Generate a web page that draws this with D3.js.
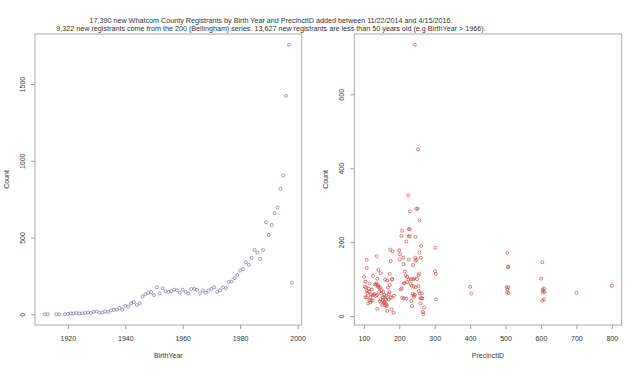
<!DOCTYPE html>
<html>
<head>
<meta charset="utf-8">
<script src="https://cdn.jsdelivr.net/npm/d3@7"></script>
<style>
  body { margin: 0; background: #fff; }
  text { font-family: "Liberation Sans", Arial, sans-serif; fill: #333; }
  .axis text { font-size: 7px; }
  .axis line { stroke: #999; }
</style>
</head>
<body>
<div class="chart"></div>
<script>
// counts by birth year
const birthYears = [1912, 1913, 1916, 1917,
  1919, 1920, 1921, 1922, 1923, 1924, 1925, 1926, 1927, 1928, 1929,
  1930, 1931, 1932, 1933, 1934, 1935, 1936, 1937, 1938, 1939,
  1940, 1941, 1942, 1943, 1944, 1945, 1946, 1947, 1948, 1949,
  1950, 1951, 1952, 1953, 1954, 1955, 1956, 1957, 1958, 1959,
  1960, 1961, 1962, 1963, 1964, 1965, 1966, 1967, 1968, 1969,
  1970, 1971, 1972, 1973, 1974, 1975, 1976, 1977, 1978, 1979,
  1980, 1981, 1982, 1983, 1984, 1985, 1986, 1987, 1988, 1989,
  1990, 1991, 1992, 1993, 1994, 1995, 1996, 1997, 1998];
const birthCounts = [0, 0, 0, 0,
  0, 2, 5, 5, 8, 5, 6, 8, 12, 8, 15,
  18, 10, 12, 18, 15, 25, 28, 30, 40, 30,
  55, 50, 70, 80, 60, 70, 115, 130, 140, 145,
  125, 175, 135, 170, 150, 145, 150, 160, 155, 140,
  160, 145, 135, 165, 165, 160, 135, 155, 140, 155,
  165, 175, 145, 155, 175, 170, 210, 213, 235, 256,
  285, 293, 339, 322, 367, 419, 402, 361, 419, 600,
  517, 582, 658, 695, 817, 904, 1423, 1756, 206];

// counts by precinct
const precinctIds = [244, 253, 225, 230, 248, 252, 257, 208, 206, 227, 229, 226, 229, 246, 220,
  262, 302, 174, 181, 200, 202, 257, 505, 108, 136, 211, 201, 227, 245, 249,
  261, 176, 604, 246, 212, 239, 507, 508, 108, 141, 147, 173, 216, 256, 254,
  301, 303, 101, 126, 222, 600, 104, 138, 160, 166, 179, 227, 233, 239, 243,
  250, 116, 131, 135, 140, 173, 213, 215, 235, 241, 246, 254, 103, 106, 114,
  140, 144, 147, 168, 400, 503, 508, 505, 605, 609, 607, 800, 700, 403, 504,
  508, 605, 610, 109, 114, 144, 149, 172, 258, 264, 120, 124, 127, 133, 137,
  158, 163, 104, 108, 154, 160, 175, 178, 241, 241, 208, 220, 260, 265, 304,
  609, 116, 121, 125, 147, 152, 162, 234, 604, 112, 118, 156, 160, 164, 260,
  161, 165, 236, 138, 270, 166, 178, 184, 267, 268,
  150, 155, 130, 118, 145, 170, 157, 152, 135, 110, 122, 170, 180, 185,
  204, 207, 218, 222, 232, 238, 244, 255, 263, 213];
const precinctCounts = [734, 451, 326, 283, 290, 291, 259, 231, 217, 235, 235, 216, 216, 214, 202,
  190, 185, 180, 175, 178, 167, 172, 171, 152, 162, 158, 153, 153, 158, 153,
  158, 149, 146, 150, 140, 138, 132, 134, 130, 125, 116, 114, 121, 115, 110,
  121, 114, 106, 109, 106, 101, 93, 101, 99, 96, 99, 99, 100, 100, 102,
  100, 88, 85, 85, 84, 84, 88, 90, 82, 80, 78, 81, 79, 77, 74,
  79, 76, 77, 77, 79, 78, 78, 73, 72, 75, 69, 82, 63, 61, 64,
  62, 64, 65, 68, 66, 66, 61, 65, 61, 61, 59, 57, 57, 55, 57,
  57, 55, 51, 51, 51, 50, 51, 50, 52, 56, 50, 47, 48, 48, 45,
  45, 43, 42, 42, 45, 42, 45, 41, 41, 34, 37, 34, 37, 32, 34,
  29, 27, 27, 20, 23, 14, 18, 9, 11, 5,
  70, 65, 60, 50, 40, 45, 38, 30, 88, 62, 72, 60, 100, 55,
  72, 75, 110, 92, 87, 60, 58, 68, 48, 48];

const yearTicks = [1920, 1940, 1960, 1980, 2000];
const yearCountTicks = [0, 500, 1000, 1500];
const precinctTicks = [100, 200, 300, 400, 500, 600, 700, 800];
const precinctCountTicks = [0, 200, 400, 600];

const titleLines = [
  '17,390 new Whatcom County Registrants by Birth Year and PrecinctID added between 11/22/2014 and 4/15/2016.',
  '9,322 new registrants come from the 200 (Bellingham) series. 13,627 new registrants are less than 50 years old (e.g BirthYear > 1966).'
];

const w = 640;
const h = 369;
const plotTop = 34;
const plotBottom = 325;

const svg = d3.select('.chart')
              .append('svg')
              .attr('width', w)
              .attr('height', h);

svg.append('rect')
   .attr('width', w)
   .attr('height', h)
   .attr('fill', '#fff');

// R style range: extend the data extent by 4% on each side
function padded(values) {
  const [lo, hi] = d3.extent(values);
  const pad = (hi - lo) * 0.04;
  return [lo - pad, hi + pad];
}

function drawPanel(opts) {
  const xScale = d3.scaleLinear()
                   .domain(padded(opts.xs))
                   .range([opts.left, opts.right]);
  const yScale = d3.scaleLinear()
                   .domain(padded(opts.ys))
                   .range([plotBottom, plotTop]);

  const g = svg.append('g');

  g.selectAll('circle')
   .data(opts.xs)
   .enter()
   .append('circle')
   .attr('cx', d => xScale(d))
   .attr('cy', (d, i) => yScale(opts.ys[i]))
   .attr('r', 1.5)
   .attr('fill', 'none')
   .attr('stroke', opts.color)
   .attr('stroke-width', 0.7);

  const xAxis = d3.axisBottom(xScale)
                  .tickValues(opts.xTicks)
                  .tickFormat(d3.format('d'))
                  .tickSize(4)
                  .tickPadding(7);

  g.append('g')
   .attr('class', 'axis')
   .attr('transform', `translate(0, ${plotBottom})`)
   .call(xAxis)
   .call(a => a.select('.domain').remove());

  const yAxis = d3.axisLeft(yScale)
                  .tickValues(opts.yTicks)
                  .tickFormat(d3.format('d'))
                  .tickSize(4);

  g.append('g')
   .attr('class', 'axis')
   .attr('transform', `translate(${opts.left}, 0)`)
   .call(yAxis)
   .call(a => a.select('.domain').remove())
   .call(a => a.selectAll('text')
               .attr('x', null)
               .attr('dy', null)
               .attr('transform', 'translate(-10.5, 0) rotate(-90)')
               .style('text-anchor', 'middle'));

  g.append('rect')
   .attr('x', opts.left)
   .attr('y', plotTop)
   .attr('width', opts.right - opts.left)
   .attr('height', plotBottom - plotTop)
   .attr('fill', 'none')
   .attr('stroke', '#aaa')
   .attr('stroke-width', 1);

  g.append('text')
   .attr('x', (opts.left + opts.right) / 2)
   .attr('y', 357.5)
   .style('text-anchor', 'middle')
   .style('font-size', '7px')
   .text(opts.xLabel);

  g.append('text')
   .attr('transform', `translate(${opts.left - 26.5}, ${(plotTop + plotBottom) / 2}) rotate(-90)`)
   .style('text-anchor', 'middle')
   .style('font-size', '7px')
   .text('Count');
}

drawPanel({
  xs: birthYears, ys: birthCounts,
  left: 35, right: 301.7,
  xTicks: yearTicks, yTicks: yearCountTicks,
  color: '#7474b6', xLabel: 'BirthYear'
});

drawPanel({
  xs: precinctIds, ys: precinctCounts,
  left: 354.3, right: 621.7,
  xTicks: precinctTicks, yTicks: precinctCountTicks,
  color: '#c84848', xLabel: 'PrecinctID'
});

svg.selectAll('.title')
   .data(titleLines)
   .enter()
   .append('text')
   .attr('class', 'title')
   .attr('x', 271)
   .attr('y', (d, i) => 23 + i * 8)
   .style('text-anchor', 'middle')
   .style('font-size', '7.2px')
   .text(d => d);
</script>
</body>
</html>
